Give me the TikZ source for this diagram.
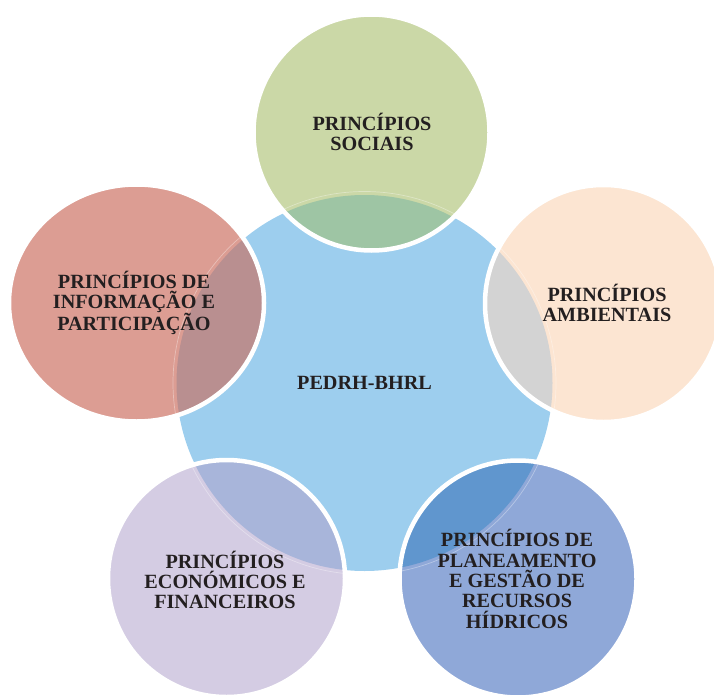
\documentclass[tikz,border=0pt]{standalone}
\usepackage{fontspec}
\setmainfont{Liberation Serif}
\definecolor{cblue}{HTML}{9DCEEE}
\definecolor{cgreen}{HTML}{CBD8A7}
\definecolor{ogreen}{HTML}{9EC5A4}
\definecolor{cpeach}{HTML}{FCE5D2}
\definecolor{opeach}{HTML}{D3D3D3}
\definecolor{cred}{HTML}{DC9D93}
\definecolor{ored}{HTML}{B98F90}
\definecolor{clav}{HTML}{D4CCE3}
\definecolor{olav}{HTML}{A8B5DA}
\definecolor{cdblue}{HTML}{8FA8D8}
\definecolor{odblue}{HTML}{6096CE}
\definecolor{ctext}{HTML}{231F20}
\tikzset{
  lbl/.style={align=center, text=ctext, font=\fontsize{20.2}{20.3}\selectfont\bfseries, inner sep=0pt},
  rim/.style={draw=white, line width=4.5pt},
  ghost/.style={draw=white, opacity=0.35, line width=0.7pt}
}
\newcommand{\mypetal}[4]{%
  \path[fill=#3] #1;
  \begin{scope}
    \clip (364.5,383) circle (188);
    \path[fill=#4] #1;
  \end{scope}
  \begin{scope}
    \clip #1;
    \path[ghost] (364.5,383) circle (191.5);
  \end{scope}
  \path[rim] #1;
}
\begin{document}
\begin{tikzpicture}[x=1pt,y=-1pt]
\useasboundingbox (0,0) rectangle (714,695);
\clip (0,0) rectangle (714,695);
\path[fill=cblue] (364.5,383) circle (188);
\mypetal{(371.5,132.5) circle (118)}{}{cgreen}{ogreen}
\mypetal{(603.5,303.5) circle (118.5)}{}{cpeach}{opeach}
\mypetal{(136.5,303) ellipse [x radius=127.5, y radius=118.5]}{}{cred}{ored}
\mypetal{(226.5,578.5) circle (118.5)}{}{clav}{olav}
\mypetal{(518,579) circle (118.5)}{}{cdblue}{odblue}
\node[lbl] (centre) at (364.5,383) {PEDRH-BHRL};
\node[lbl] (sociais) at (372,132) {PRINCÍPIOS\\SOCIAIS};
\node[lbl] (ambientais) at (607,303) {PRINCÍPIOS\\AMBIENTAIS};
\node[lbl] (informacao) at (134,303) {PRINCÍPIOS DE\\INFORMAÇÃO E\\PARTICIPAÇÃO};
\node[lbl] (economicos) at (225,580) {PRINCÍPIOS\\ECONÓMICOS E\\FINANCEIROS};
\node[lbl] (planeamento) at (517,579) {PRINCÍPIOS DE\\PLANEAMENTO\\E GESTÃO DE\\RECURSOS\\HÍDRICOS};
\end{tikzpicture}
\end{document}
